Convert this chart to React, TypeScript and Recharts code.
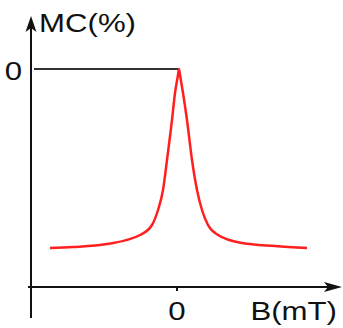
import { LineChart, Line, XAxis, YAxis, ReferenceLine } from 'recharts';

// B (mT) positions and MC (%) values
const B_VALUES = [-12.7, -10.4, -7.0, -3.7, -2.5, -1.9, -1.4, -1.0, -0.5, -0.2, 0.1, 0.2, 0.3, 0.6, 1.0, 1.5, 2.0, 2.5, 3.1, 4.1, 6.5, 9.8, 13.0];
const MC_VALUES = [-17.9, -17.8, -17.5, -16.6, -15.6, -14.1, -12.1, -9.1, -5.1, -2.4, -0.6, 0, -0.6, -2.4, -5.1, -9.1, -12.1, -14.1, -15.6, -16.6, -17.4, -17.7, -17.9];
const X_TICKS = [0];
const Y_TICKS = [0];
const X_LABEL = 'B(mT)';
const Y_LABEL = 'MC(%)';

const X_DOMAIN: [number, number] = [-14.6, 16.5];
const Y_DOMAIN: [number, number] = [-21.8, 5.3];
const Y_AXIS_LOW = -24.9; // vertical axis runs a bit below the horizontal one

const FONT = '"Liberation Sans", Arial, sans-serif';
const INK = '#111';

const data = B_VALUES.map((b, i) => ({ b, mc: MC_VALUES[i] }));

function StretchText({ x, y, anchor, children }: any) {
  return (
    <text
      transform={`translate(${x},${y}) scale(1.2,1)`}
      textAnchor={anchor}
      fontFamily={FONT}
      fontSize={26}
      fill={INK}
    >
      {children}
    </text>
  );
}

const XTick = (props: any) => (
  <StretchText x={props.x} y={props.y + 27} anchor="middle">{props.payload.value}</StretchText>
);

const YTick = (props: any) => (
  <StretchText x={props.x - 1} y={props.y + 11} anchor="end">{props.payload.value}</StretchText>
);

const VerticalAxis = (props: any) => {
  const { x1, y1, x2, y2 } = props;
  const top = Math.min(y1, y2);
  const bottom = Math.max(y1, y2);
  return (
    <g>
      <line x1={x1} y1={bottom} x2={x2} y2={top + 6} stroke={INK} strokeWidth={2} />
      <path d={`M${x1} ${top} L${x1 - 5.5} ${top + 16} L${x1} ${top + 12} L${x1 + 5.5} ${top + 16} Z`} fill={INK} />
      <StretchText x={x1 + 8} y={top + 16} anchor="start">{Y_LABEL}</StretchText>
    </g>
  );
};

const HorizontalAxis = (props: any) => {
  const { x1, y1, x2 } = props;
  const left = Math.min(x1, x2);
  const right = Math.max(x1, x2);
  return (
    <g>
      <line x1={left} y1={y1} x2={right - 6} y2={y1} stroke={INK} strokeWidth={2} />
      <path d={`M${right} ${y1} L${right - 18} ${y1 - 5} L${right - 14} ${y1} L${right - 18} ${y1 + 5} Z`} fill={INK} />
      <StretchText x={right - 5} y={y1 + 33} anchor="end">{X_LABEL}</StretchText>
    </g>
  );
};

export default function App() {
  return (
    <div style={{ position: 'absolute', left: 0, top: 0, background: '#fff' }}>
      <LineChart width={343} height={328} data={data} margin={{ top: 16, right: 1, bottom: 0, left: 0 }}>
        <XAxis
          dataKey="b"
          type="number"
          domain={X_DOMAIN}
          ticks={X_TICKS}
          allowDataOverflow
          axisLine={false}
          tickSize={4}
          tickLine={{ stroke: INK, strokeWidth: 2 }}
          tick={<XTick />}
          height={41}
        />
        <YAxis
          type="number"
          domain={Y_DOMAIN}
          ticks={Y_TICKS}
          allowDataOverflow
          axisLine={false}
          tickLine={false}
          tick={<YTick />}
          width={31}
        />
        <ReferenceLine
          segment={[{ x: X_DOMAIN[0] + 0.3, y: 0 }, { x: 0.1, y: 0 }]}
          stroke="#333"
          strokeWidth={2}
          ifOverflow="visible"
        />
        <Line
          type="monotone"
          dataKey="mc"
          stroke="#ff1f1f"
          strokeWidth={2.5}
          dot={false}
          isAnimationActive={false}
        />
        <ReferenceLine
          segment={[{ x: X_DOMAIN[0], y: Y_AXIS_LOW }, { x: X_DOMAIN[0], y: Y_DOMAIN[1] }]}
          ifOverflow="visible"
          shape={<VerticalAxis />}
        />
        <ReferenceLine
          segment={[{ x: X_DOMAIN[0] - 0.3, y: Y_DOMAIN[0] }, { x: X_DOMAIN[1], y: Y_DOMAIN[0] }]}
          ifOverflow="visible"
          shape={<HorizontalAxis />}
        />
      </LineChart>
    </div>
  );
}
